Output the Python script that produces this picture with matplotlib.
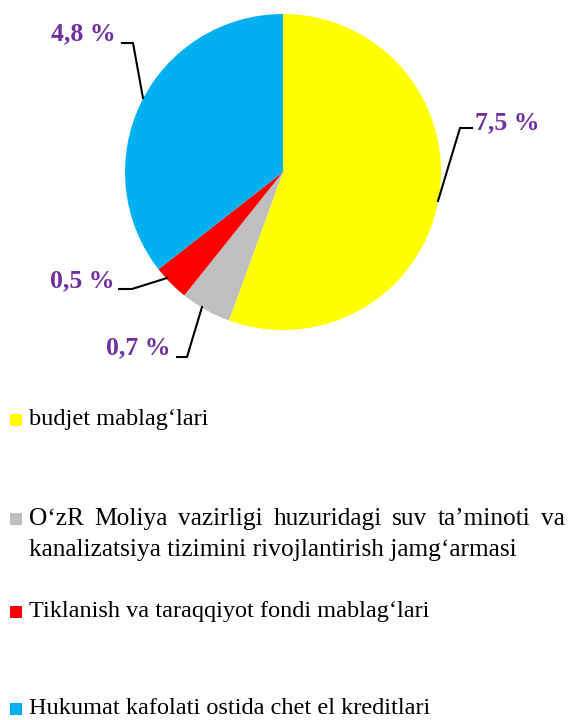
import matplotlib
matplotlib.use("Agg")
import matplotlib.pyplot as plt
from matplotlib.patches import Rectangle

plt.rcParams['font.family'] = ['Liberation Serif', 'DejaVu Serif']

# ulushlar (%)
values = [7.5, 0.7, 0.5, 4.8]
value_labels = ['7,5 %', '0,7 %', '0,5 %', '4,8 %']
categories = [
    'budjet mablag\u2018lari',
    'O\u2018zR Moliya vazirligi huzuridagi suv ta\u2019minoti va\nkanalizatsiya tizimini rivojlantirish jamg\u2018armasi',
    'Tiklanish va taraqqiyot fondi mablag\u2018lari',
    'Hukumat kafolati ostida chet el kreditlari',
]
colors = ['#FFFF00', '#BFBFBF', '#FF0000', '#00B0F0']

W, H = 570, 720
fig = plt.figure(figsize=(W / 100, H / 100), dpi=100)
ax = fig.add_axes([0, 0, 1, 1])

cx, cy, r = 283, H - 172, 158
ax.pie(values, colors=colors, startangle=90, counterclock=False,
       center=(cx, cy), radius=r, frame=True,
       wedgeprops=dict(linewidth=0))
ax.set_xlim(0, W)
ax.set_ylim(0, H)
ax.set_aspect('equal')
ax.axis('off')

# leader lines and value labels (pixel layout, y from top)
leaders = [
    [(438, 201), (460, 128), (472, 128)],
    [(202, 307), (187, 357), (177, 357)],
    [(167, 278), (132, 289), (119, 289)],
    [(143, 98), (133, 43), (122, 43)],
]
label_pos = [(475, 123, 'left'), (170, 348, 'right'), (114, 281, 'right'), (116, 34, 'right')]
for pts, (tx, ty, ha), lab in zip(leaders, label_pos, value_labels):
    ax.plot([p[0] for p in pts], [H - p[1] for p in pts], color='black', lw=1.5,
            solid_joinstyle='miter')
    ax.text(tx, H - ty, lab, ha=ha, va='center', fontsize=18.5,
            fontweight='bold', color='#7030A0')

# legend (first line of a wrapped item is justified to the right edge)
legend_y = [420, 519, 612, 709]
legend_fs = [17.5, 18.3, 17.5, 17.5]
line_gap = 31
x0, x_right = 29, 565
renderer = fig.canvas.get_renderer()
for y, fs, lab, c in zip(legend_y, legend_fs, categories, colors):
    ax.add_patch(Rectangle((10, H - y - 6), 12, 12, color=c, lw=0))
    lines = lab.split('\n')
    for k, line in enumerate(lines):
        yy = H - y - k * line_gap
        if k < len(lines) - 1:
            words = line.split(' ')
            widths = []
            for w in words:
                t = ax.text(0, 0, w, fontsize=fs)
                widths.append(t.get_window_extent(renderer).width)
                t.remove()
            gap = (x_right - x0 - sum(widths)) / (len(words) - 1)
            x = x0
            for w, wd in zip(words, widths):
                ax.text(x, yy, w, ha='left', va='center', fontsize=fs, color='black')
                x += wd + gap
        else:
            ax.text(x0, yy, line, ha='left', va='center', fontsize=fs, color='black')

fig.savefig('out.png', dpi=100)
